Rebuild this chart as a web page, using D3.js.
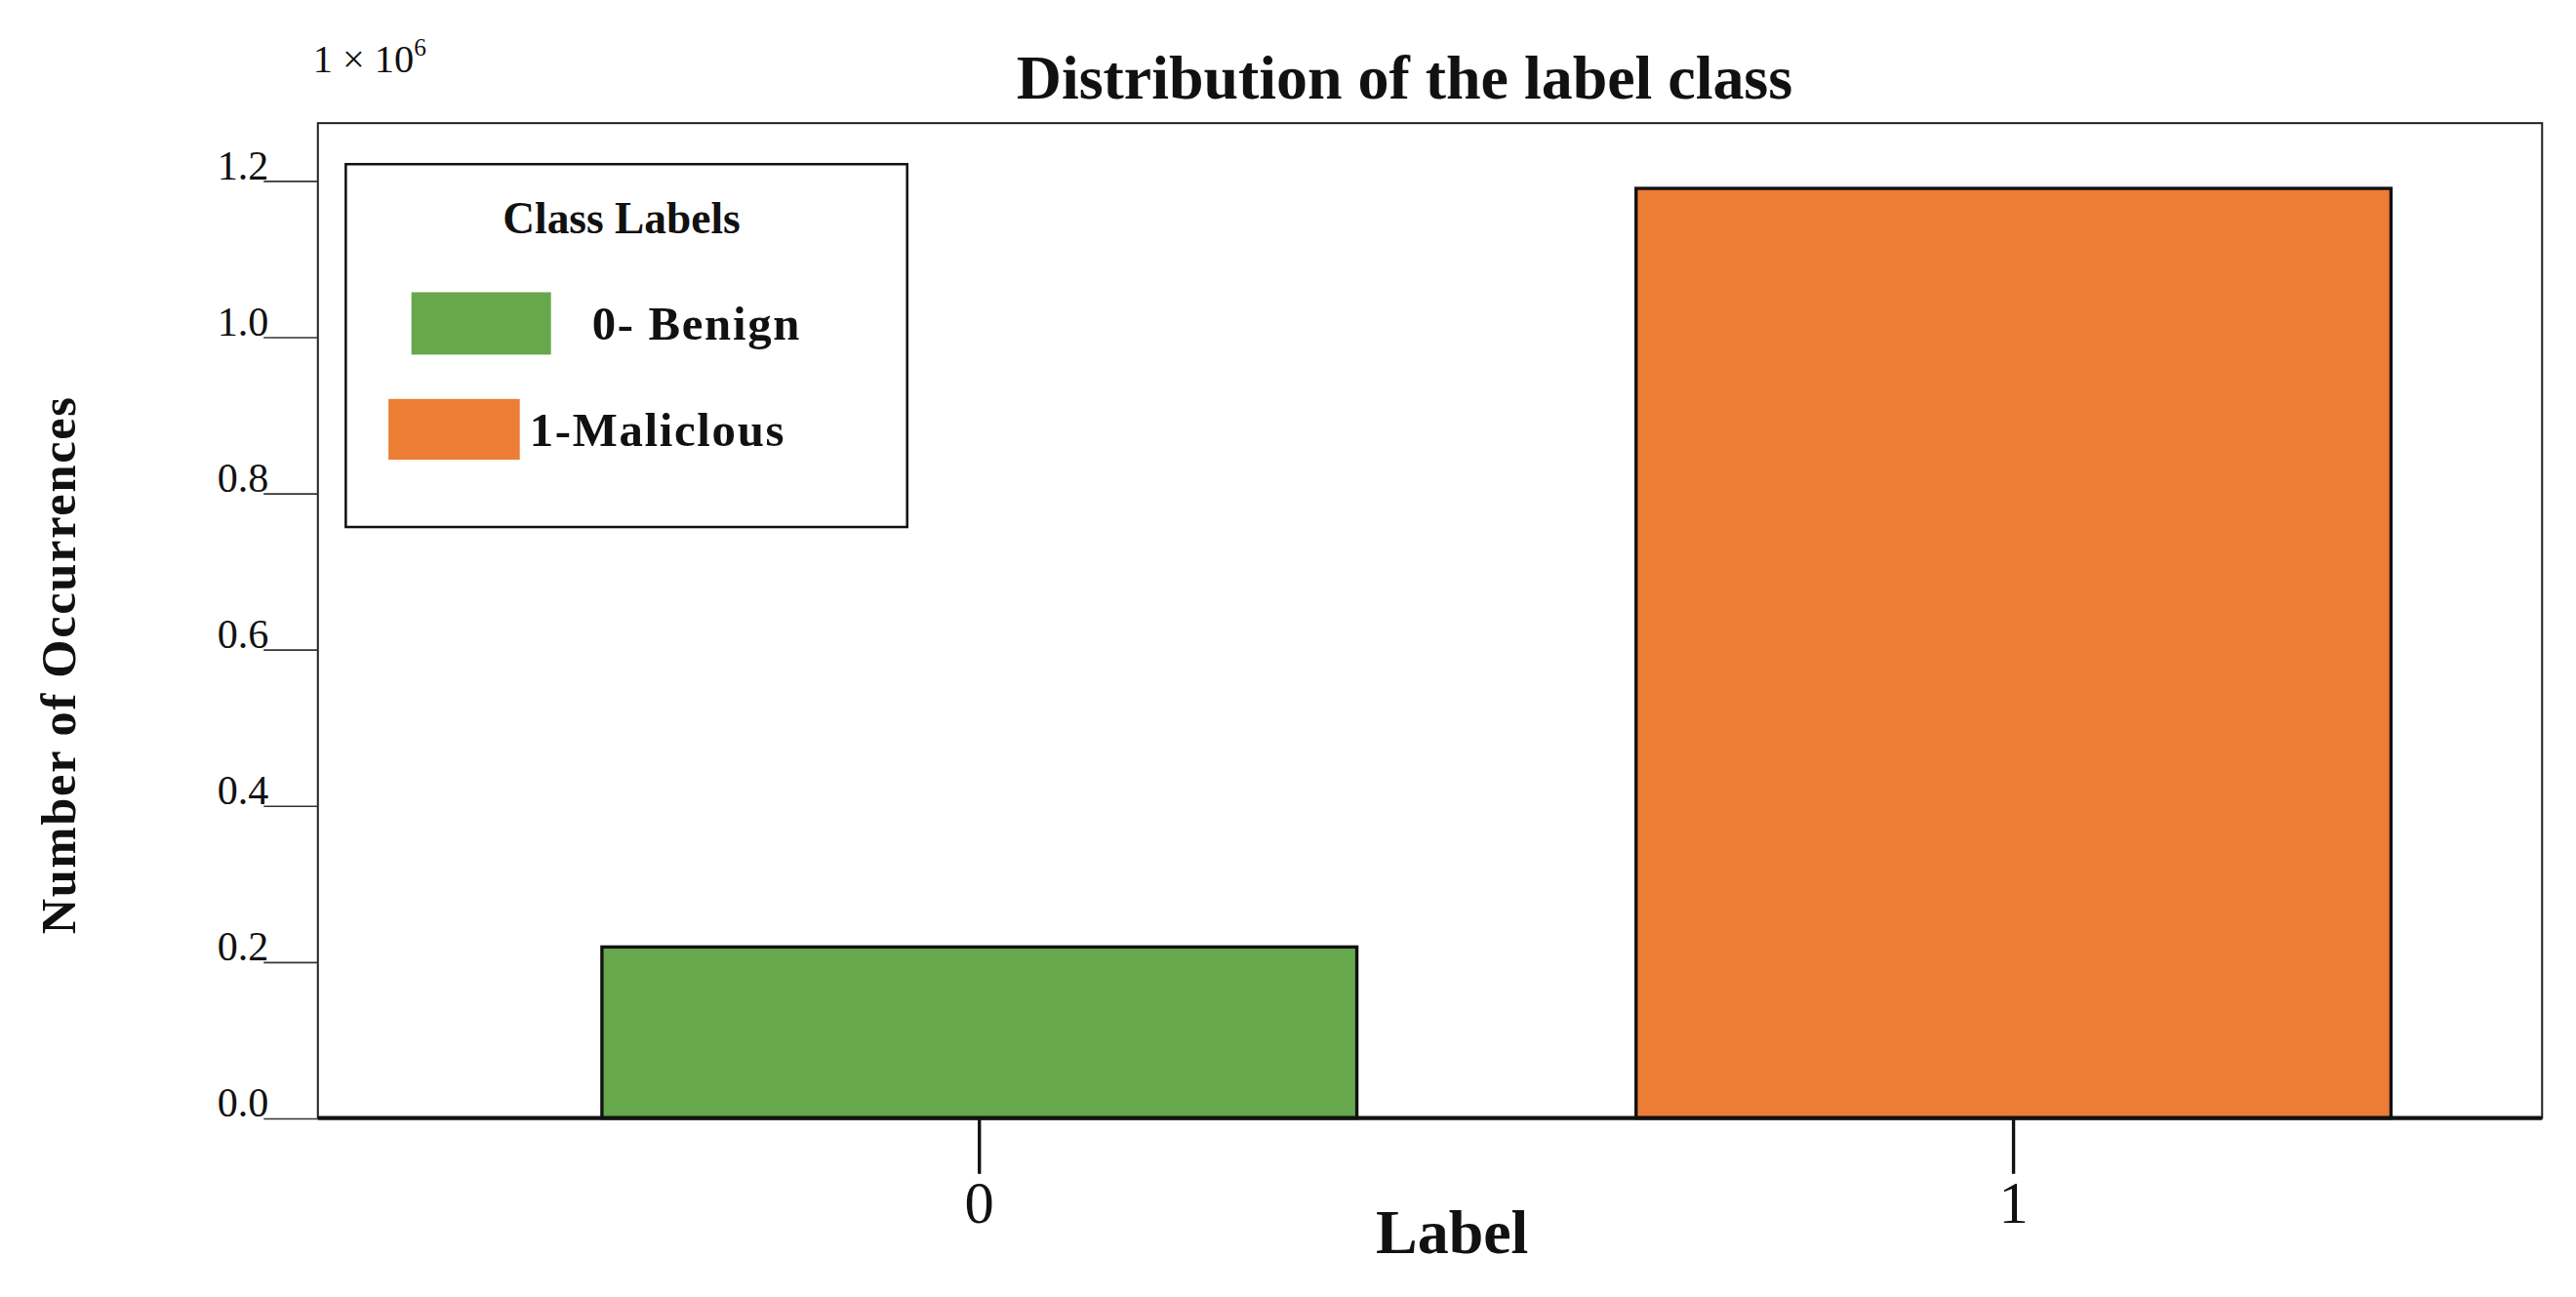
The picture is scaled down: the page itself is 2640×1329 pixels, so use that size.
<!DOCTYPE html>
<html><head><meta charset="utf-8">
<script src="https://cdn.jsdelivr.net/npm/d3@7"></script>
<style>body{margin:0;background:#fff}text{font-family:"Liberation Serif","DejaVu Serif",serif;fill:#111}</style>
</head><body>
<svg id="chart" width="2640" height="1329" viewBox="0 0 1568 790"></svg>
<script>
// data
var categories = ["0", "1"];
var counts = [219000, 1190000];
var yTicks = [0, 0.2e6, 0.4e6, 0.6e6, 0.8e6, 1.0e6, 1.2e6];
var legendLabels = ["0- Benign", "1-Maliclous"];
var colors = ["#66a84b", "#ec7d35"];

var svg = d3.select("#chart");
var plot = {left: 193, right: 1548, top: 75, bottom: 681};

var x = d3.scaleBand().domain(categories).range([281, 1541]).paddingInner(0.27).paddingOuter(0.135);
var y = d3.scaleLinear().domain([0, 1.2e6]).range([plot.bottom, 110]);

// frame
svg.append("rect").attr("x", plot.left).attr("y", plot.top)
  .attr("width", plot.right - plot.left).attr("height", plot.bottom - plot.top)
  .attr("fill", "none").attr("stroke", "#222").attr("stroke-width", 1.2);

// bars
svg.selectAll("rect.bar").data(counts).enter().append("rect")
  .attr("class", "bar")
  .attr("x", function(d, i) { return x(categories[i]); })
  .attr("y", function(d) { return y(d); })
  .attr("width", x.bandwidth())
  .attr("height", function(d) { return y(0) - y(d); })
  .attr("fill", function(d, i) { return colors[i]; })
  .attr("stroke", "#111").attr("stroke-width", 2);

// baseline
svg.append("line").attr("x1", plot.left).attr("x2", plot.right)
  .attr("y1", plot.bottom).attr("y2", plot.bottom).attr("stroke", "#111").attr("stroke-width", 2.5);

// y axis
var ya = svg.append("g").attr("transform", "translate(" + plot.left + ",0)")
  .call(d3.axisLeft(y).tickValues(yTicks).tickSize(33)
    .tickFormat(function(d) { return (d / 1e6).toFixed(1); }));
ya.select(".domain").remove();
ya.selectAll("line").attr("stroke", "#333");
ya.selectAll("text").style("font-size", "25px").attr("dx", "6").attr("dy", "-0.05em");

svg.append("text").attr("x", 190).attr("y", 44).style("font-size", "24px")
  .html("1 × 10<tspan dy='-10' font-size='15'>6</tspan>");

// x axis
var xa = svg.append("g").attr("transform", "translate(0," + plot.bottom + ")")
  .call(d3.axisBottom(x).tickSize(34).tickPadding(4));
xa.select(".domain").remove();
xa.selectAll("line").attr("stroke", "#111").attr("stroke-width", 2);
xa.selectAll("text").style("font-size", "36px");

// titles
svg.append("text").attr("x", 855).attr("y", 60).attr("text-anchor", "middle")
  .style("font-size", "38px").style("font-weight", "600").text("Distribution of the label class");
svg.append("text").attr("x", 884).attr("y", 763).attr("text-anchor", "middle")
  .style("font-size", "38px").style("font-weight", "600").text("Label");
svg.append("text").attr("transform", "translate(45,405) rotate(-90)").attr("text-anchor", "middle")
  .style("font-size", "30px").style("font-weight", "600").style("letter-spacing", "1px").text("Number of Occurrences");

// legend
var lg = svg.append("g");
lg.append("rect").attr("x", 210).attr("y", 100).attr("width", 342).attr("height", 221)
  .attr("fill", "#fff").attr("stroke", "#111").attr("stroke-width", 1.5);
lg.append("text").attr("x", 378).attr("y", 142).attr("text-anchor", "middle")
  .style("font-size", "27px").style("font-weight", "600").text("Class Labels");
var swatches = [{x: 250, y: 178, w: 85, h: 38, tx: 360}, {x: 236, y: 243, w: 80, h: 37, tx: 322}];
lg.selectAll("rect.sw").data(legendLabels).enter().append("rect").attr("class", "sw")
  .attr("x", function(d, i) { return swatches[i].x; }).attr("y", function(d, i) { return swatches[i].y; })
  .attr("width", function(d, i) { return swatches[i].w; }).attr("height", function(d, i) { return swatches[i].h; })
  .attr("fill", function(d, i) { return colors[i]; });
lg.selectAll("text.lt").data(legendLabels).enter().append("text").attr("class", "lt")
  .attr("x", function(d, i) { return swatches[i].tx; })
  .attr("y", function(d, i) { return swatches[i].y + swatches[i].h / 2 + 10; })
  .style("font-size", "29px").style("font-weight", "600").style("letter-spacing", "1px").text(function(d) { return d; });
</script>
</body></html>
